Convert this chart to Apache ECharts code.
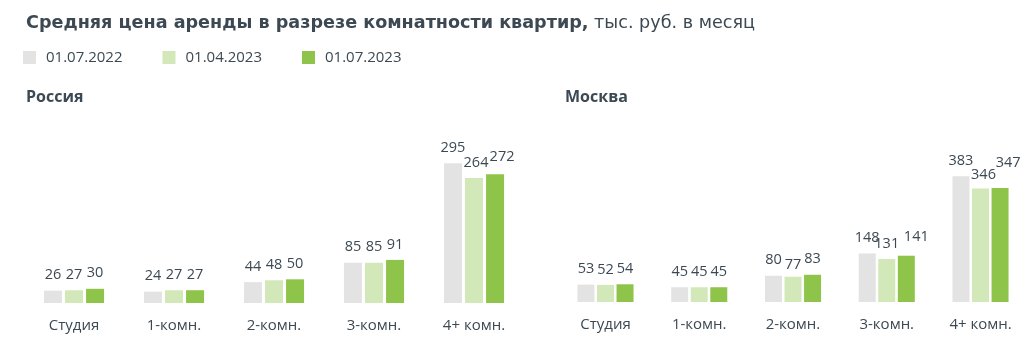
<!DOCTYPE html>
<html>
<head>
<meta charset="utf-8">
<script src="https://cdn.jsdelivr.net/npm/echarts@6/dist/echarts.min.js"></script>
<style>
  html, body { margin: 0; padding: 0; background: #ffffff; }
  #chart { width: 1034px; height: 337px; }
</style>
</head>
<body>
<div id="chart"></div>
<script>
// Room-count categories and reporting dates
const categories = ['Студия', '1-комн.', '2-комн.', '3-комн.', '4+ комн.'];
const dates = ['01.07.2022', '01.04.2023', '01.07.2023'];

// Average rent, thousand roubles per month — Russia
const russia2022Jul = [26, 24, 44, 85, 295];
const russia2023Apr = [27, 27, 48, 85, 264];
const russia2023Jul = [30, 27, 50, 91, 272];

// Average rent, thousand roubles per month — Moscow
const moscow2022Jul = [53, 45, 80, 148, 383];
const moscow2023Apr = [52, 45, 77, 131, 346];
const moscow2023Jul = [54, 45, 83, 141, 347];

const colors = ['#e3e3e3', '#d3e8b8', '#8fc44b'];
const textColor = '#3c4953';
const font = '"Open Sans"';
const titleFont = '"DejaVu Sans"';

// Small hand-placed label nudges: [panel][series][category] -> [dx, dy]
const labelNudges = {
  0: { 2: { 4: [7, -2] }, 1: { 4: [2, 0] } },
  1: { 2: { 3: [10, -3], 4: [8, -10] }, 1: { 2: [0, 4], 4: [3, 2] } }
};

function makeSeries(panel, values, idx, barWidth, barGap) {
  const nud = (labelNudges[panel] || {})[idx] || {};
  return {
    name: dates[idx],
    type: 'bar',
    xAxisIndex: panel,
    yAxisIndex: panel,
    barWidth: barWidth,
    barGap: barGap,
    itemStyle: { color: colors[idx] },
    label: {
      show: true,
      position: 'top',
      distance: 8,
      color: textColor,
      fontFamily: font,
      fontSize: 14.5
    },
    data: values.map((v, i) => {
      const off = nud[i];
      return off ? { value: v, label: { offset: off } } : v;
    })
  };
}

function catAxis(grid) {
  return {
    type: 'category',
    gridIndex: grid,
    data: categories,
    axisLine: { show: false },
    axisTick: { show: false },
    axisLabel: { color: textColor, fontFamily: font, fontSize: 15, margin: 15 }
  };
}

function valAxis(grid, max) {
  return {
    type: 'value',
    gridIndex: grid,
    min: 0,
    max: max,
    show: false,
    splitLine: { show: false }
  };
}

const chart = echarts.init(document.getElementById('chart'), null, { renderer: 'canvas' });
chart.setOption({
  animation: false,
  backgroundColor: '#ffffff',
  textStyle: { fontFamily: font },
  title: [
    {
      left: 21,
      top: 9,
      text: '{b|Средняя цена аренды в разрезе комнатности квартир,}{n| тыс. руб. в месяц}',
      textStyle: {
        rich: {
          b: { fontFamily: titleFont, fontSize: 17.6, fontWeight: 'bold', color: textColor },
          n: { fontFamily: titleFont, fontSize: 17.6, fontWeight: 'normal', color: textColor }
        }
      }
    },
    {
      left: 21,
      top: 84,
      text: 'Россия',
      textStyle: { fontFamily: font, fontSize: 16, fontWeight: 'bold', color: textColor }
    },
    {
      left: 560,
      top: 84,
      text: 'Москва',
      textStyle: { fontFamily: font, fontSize: 16, fontWeight: 'bold', color: textColor }
    }
  ],
  legend: {
    left: 23,
    top: 50,
    padding: 0,
    icon: 'rect',
    itemWidth: 13,
    itemHeight: 13,
    itemGap: 40,
    data: dates,
    textStyle: { color: textColor, fontFamily: font, fontSize: 15, padding: [0, 0, 0, 5] }
  },
  grid: [
    { left: 24, width: 500, top: 142, bottom: 34 },
    { left: 558.6, width: 468.8, top: 151, bottom: 35 }
  ],
  xAxis: [catAxis(0), catAxis(1)],
  yAxis: [valAxis(0, 340), valAxis(1, 460)],
  series: [
    makeSeries(0, russia2022Jul, 0, 18, '17%'),
    makeSeries(0, russia2023Apr, 1, 18, '17%'),
    makeSeries(0, russia2023Jul, 2, 18, '17%'),
    makeSeries(1, moscow2022Jul, 0, 17, '15%'),
    makeSeries(1, moscow2023Apr, 1, 17, '15%'),
    makeSeries(1, moscow2023Jul, 2, 17, '15%')
  ]
});
</script>
</body>
</html>
